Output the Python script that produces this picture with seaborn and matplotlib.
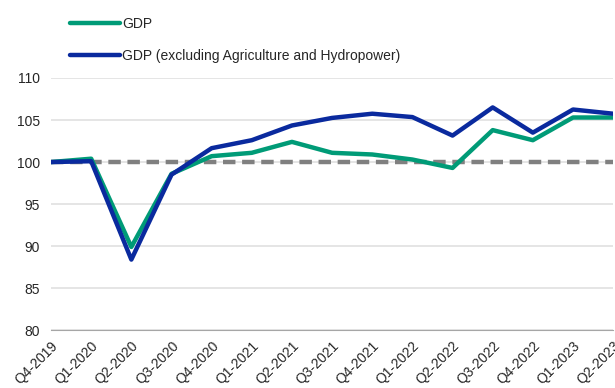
import matplotlib
matplotlib.use("Agg")
import matplotlib.pyplot as plt
import seaborn as sns
import pandas as pd

quarters = ["Q4-2019", "Q1-2020", "Q2-2020", "Q3-2020", "Q4-2020", "Q1-2021", "Q2-2021",
            "Q3-2021", "Q4-2021", "Q1-2022", "Q2-2022", "Q3-2022", "Q4-2022", "Q1-2023", "Q2-2023"]
gdp = [100.0, 100.4, 89.9, 98.6, 100.7, 101.1, 102.4, 101.1, 100.9, 100.3, 99.3, 103.8, 102.6, 105.3, 105.3]
gdp_ex = [100.0, 100.1, 88.4, 98.5, 101.65, 102.6, 104.35, 105.25, 105.75, 105.35, 103.15, 106.5, 103.5, 106.25, 105.75]
series_names = ["GDP", "GDP (excluding Agriculture and Hydropower)"]
baseline = 100
yticks = [80, 85, 90, 95, 100, 105, 110]

df = pd.DataFrame({
    "quarter": quarters * 2,
    "x": list(range(len(quarters))) * 2,
    "value": gdp + gdp_ex,
    "series": [series_names[0]] * len(quarters) + [series_names[1]] * len(quarters),
})

sns.set_style("white")
plt.rcParams["font.family"] = ["Liberation Sans", "DejaVu Sans"]

fig = plt.figure(figsize=(6.15, 3.88), dpi=100)
ax = fig.add_axes([0.083, 0.149, 0.914, 0.650])

ax.axhline(baseline, color="#808080", lw=3.2, ls=(0, (2.8, 1.5)), zorder=2)
palette = {series_names[0]: "#009B77", series_names[1]: "#0A2A9E"}
sns.lineplot(data=df, x="x", y="value", hue="series", palette=palette, lw=3.2, ax=ax,
             zorder=3, legend=True)

ax.set_xlim(0, len(quarters) - 1)
ax.set_ylim(80, 110)
ax.set_yticks(yticks)
ax.set_xticks(range(len(quarters)))
ax.set_xticklabels(quarters, rotation=45, ha="right", rotation_mode="anchor", fontsize=10)
ax.tick_params(axis="y", labelsize=10, length=0, pad=8)
ax.tick_params(axis="x", length=4, color="#a6a6a6", width=0.8, direction="out", pad=2)
ax.grid(axis="y", color="#e0e0e0", lw=1.2)
ax.set_axisbelow(True)
for s in ["left", "right", "top"]:
    ax.spines[s].set_visible(False)
ax.spines["bottom"].set_color("#a6a6a6")
ax.spines["bottom"].set_linewidth(0.8)
ax.set_xlabel("")
ax.set_ylabel("")

handles, labels = ax.get_legend_handles_labels()
ax.legend(handles, labels, loc="upper left", bbox_to_anchor=(0.098, 0.982),
          bbox_transform=fig.transFigure, frameon=False, fontsize=10,
          handlelength=3.6, handletextpad=0.15, labelspacing=1.3, borderaxespad=0.3)

fig.savefig("out.png", dpi=100)
